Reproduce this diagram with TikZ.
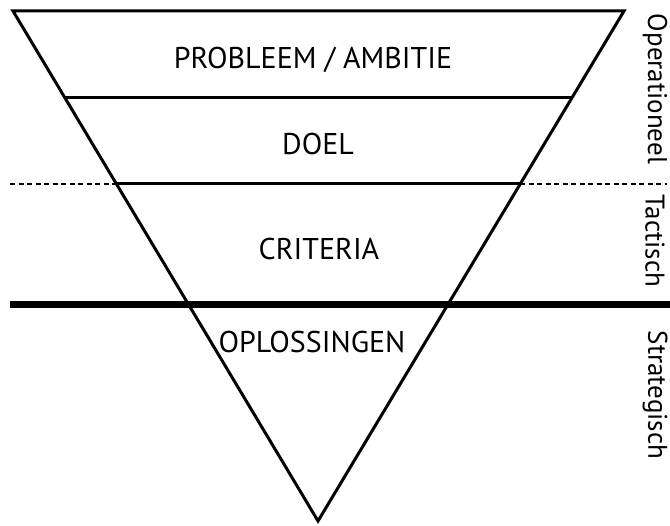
\documentclass[tikz,border=0pt]{standalone}
\usepackage{fontspec}
\setmainfont{PT Sans}
\begin{document}
\begin{tikzpicture}[x=1pt,y=-1pt,
    rand/.style={line width=3pt},
    laag/.style={font=\fontsize{30}{30}\selectfont},
    niveau/.style={rotate=-90,font=\fontsize{27}{27}\selectfont}]
  \useasboundingbox (0,0) rectangle (670,526);
  % hoekpunten van de trechter
  \coordinate (tl) at (13,11);
  \coordinate (tr) at (624,11);
  \coordinate (pt) at (318,521);
  \coordinate (l1) at (65,98);
  \coordinate (r1) at (572,98);
  \coordinate (l2) at (117,184);
  \coordinate (r2) at (520,184);
  \coordinate (d0) at (10,184);
  \coordinate (d1) at (667,184);
  \coordinate (s0) at (10,305);
  \coordinate (s1) at (670,305);
  \draw[rand,line join=miter] (tl) -- (tr) -- (pt) -- cycle;
  \draw[rand] (l1) -- (r1);
  \draw[rand] (l2) -- (r2);
  \begin{scope}[line width=2.4pt,dash pattern=on 5pt off 3.5pt]
    \draw (d0) -- (l2);
    \draw (r2) -- (d1);
  \end{scope}
  \draw[line width=7pt] (s0) -- (s1);
  % lagen
  \draw
    (313,60) node[laag] (probleem){PROBLEEM / AMBITIE}
    (318,144) node[laag] (doel){DOEL}
    (319,249) node[laag] (criteria){CRITERIA}
    (312,342) node[laag] (oplossingen){OPLOSSINGEN};
  % niveaus
  \draw
    (655,89) node[niveau] (operationeel){Operationeel}
    (655,241) node[niveau] (tactisch){Tactisch}
    (655,395) node[niveau] (strategisch){Strategisch};
\end{tikzpicture}
\end{document}
